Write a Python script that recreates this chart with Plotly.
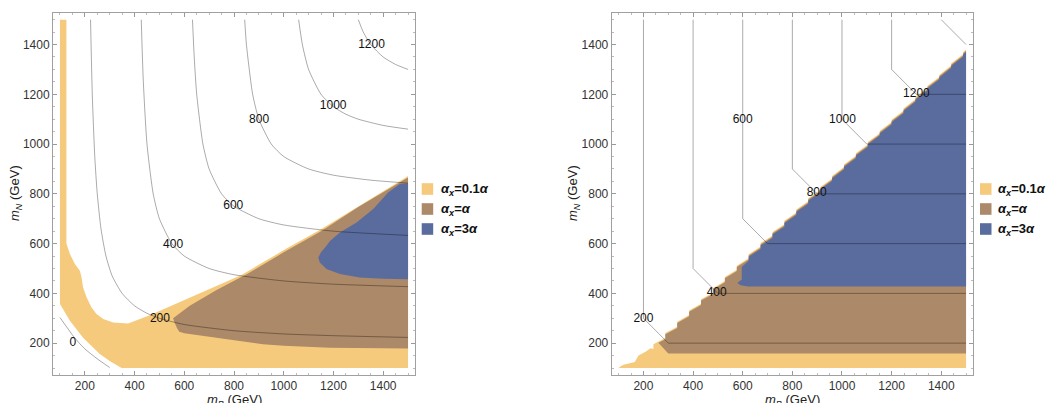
import plotly.graph_objects as go

# ---------------- data ----------------
# Left panel: filled regions (boundary vertices, GeV)
L_yellow_x = [100, 126, 126, 140, 160, 180, 187, 193, 207, 227, 247, 274, 314, 374, 461, 730, 830, 1011, 1145, 1494, 1500, 1500, 348, 300, 260, 193, 140, 100]
L_yellow_y = [1500, 1500, 600, 558, 518, 491, 464, 424, 384, 343, 317, 297, 283, 279, 312, 430, 474, 580, 655, 868, 872, 100, 100, 128, 156, 222, 290, 357]
L_brown_x = [555, 622, 730, 860, 1000, 1150, 1300, 1494, 1500, 1500, 1185, 1000, 917, 823, 700, 636, 600, 580, 570, 560]
L_brown_y = [300, 350, 414, 482, 565, 650, 747, 864, 866, 178, 182, 190, 196, 209, 225, 236, 240, 246, 262, 285]
L_blue_x = [1500, 1467, 1420, 1360, 1293, 1226, 1186, 1172, 1150, 1139, 1145, 1172, 1226, 1306, 1400, 1500]
L_blue_y = [842, 840, 805, 739, 685, 645, 611, 591, 565, 544, 524, 498, 478, 464, 459, 457]

# Left panel: contour lines
L_contours = {
    "0":    ([100, 125, 150, 175, 200, 250, 300], [303, 268, 233, 203, 177, 137, 102]),
    "200":  ([223, 230, 240, 250, 265, 285, 310, 350, 400, 450, 500, 600, 800, 1000, 1200, 1500],
             [1500, 1200, 950, 800, 660, 550, 470, 400, 350, 320, 300, 275, 250, 237, 230, 223]),
    "400":  ([427, 435, 450, 475, 500, 550, 600, 700, 800, 1000, 1200, 1500],
             [1500, 1257, 1000, 800, 700, 600, 550, 500, 475, 450, 437, 427]),
    "600":  ([633, 640, 650, 675, 700, 750, 800, 900, 1000, 1200, 1500],
             [1500, 1350, 1200, 1000, 900, 800, 750, 700, 675, 650, 633]),
    "800":  ([843, 850, 875, 900, 950, 1000, 1100, 1200, 1350, 1500],
             [1500, 1400, 1200, 1100, 1000, 950, 900, 875, 855, 843]),
    "1000": ([1060, 1075, 1100, 1150, 1200, 1250, 1300, 1400, 1500],
             [1500, 1400, 1300, 1200, 1150, 1120, 1100, 1075, 1060]),
    "1200": ([1300, 1320, 1350, 1400, 1450, 1500],
             [1500, 1450, 1400, 1350, 1320, 1300]),
}
L_label_text = ["0", "200", "400", "600", "800", "1000", "1200"]
L_label_x = [152, 502, 555, 797, 901, 1199, 1353]
L_label_y = [202, 299, 596, 752, 1098, 1152, 1399]

# Right panel: jagged diagonal edge (step positions and heights)
R_step_x = [240, 288, 336, 384, 432, 480, 528, 576, 624, 672, 720, 768, 816, 864,
            912, 960, 1008, 1056, 1104, 1152, 1200, 1248, 1296, 1344, 1392, 1440, 1488]
R_step_y = [191, 236, 281, 326, 371, 416, 461, 506, 552, 597, 642, 687, 732, 777,
            822, 867, 913, 958, 1003, 1048, 1093, 1138, 1183, 1228, 1273, 1319, 1364]
R_step_drop = [20, 20, 20, 18, 18, 18, 16, 16, 16, 14, 14, 14, 12, 12,
               12, 10, 10, 10, 10, 9, 9, 9, 8, 8, 8, 8, 8]
R_edge_end_y = 1375
R_yellow_start_x = [100, 107, 120, 165, 180, 210, 228]
R_yellow_start_y = [100, 106, 113, 124, 150, 166, 180]
R_yellow_floor = 100
R_brown_start_x = [300, 260]
R_brown_start_y = [158, 202]
R_brown_floor = 158
R_blue_start_x = [620, 592, 578, 596, 596]
R_blue_start_y = [428, 433, 442, 456, 506]
R_blue_floor = 428

# Right panel: contour lines
R_contours = {
    "200":  ([200, 200, 300, 1500], [1500, 300, 200, 200]),
    "400":  ([400, 400, 500, 1500], [1500, 500, 400, 400]),
    "600":  ([600, 600, 700, 1500], [1500, 700, 600, 600]),
    "800":  ([800, 800, 900, 1500], [1500, 900, 800, 800]),
    "1000": ([1000, 1000, 1100, 1500], [1500, 1100, 1000, 1000]),
    "1200": ([1200, 1200, 1300, 1500], [1500, 1300, 1200, 1200]),
    "1400": ([1400, 1500], [1500, 1400]),
}
R_label_text = ["200", "400", "600", "800", "1000", "1200"]
R_label_x = [200, 495, 600, 898, 1002, 1300]
R_label_y = [297, 400, 1098, 802, 1098, 1202]

legend_names = ["<b><i>α</i><sub><i>x</i></sub>=0.1<i>α</i></b>",
                "<b><i>α</i><sub><i>x</i></sub>=<i>α</i></b>",
                "<b><i>α</i><sub><i>x</i></sub>=3<i>α</i></b>"]
tick_vals = [200, 400, 600, 800, 1000, 1200, 1400]

# ---------------- style / layout ----------------
YELLOW = "#F6CA7C"
BROWN = "#AC8968"
BLUE = "#5A6C9E"
CONTOUR = "rgba(0,0,0,0.42)"
W, H = 1047, 403
FONT = "Liberation Sans, Arial, sans-serif"


def px(xp):
    return xp / W


def py(yp):
    return 1 - yp / H


def sawtooth(offset, start_idx):
    xs, ys = [], []
    for x, y, d in zip(R_step_x[start_idx:], R_step_y[start_idx:], R_step_drop[start_idx:]):
        xs += [x, x]
        ys += [y - d + offset, y + offset]
    xs.append(1500)
    ys.append(R_edge_end_y + offset)
    return xs, ys


fig = go.Figure()


def add_fill(xs, ys, color, xa, ya):
    fig.add_trace(go.Scatter(x=xs, y=ys, fill="toself", fillcolor=color, mode="lines",
                             line=dict(width=0, color=color), hoverinfo="skip",
                             showlegend=False, xaxis=xa, yaxis=ya))


# left panel fills
add_fill(L_yellow_x, L_yellow_y, YELLOW, "x", "y")
add_fill(L_brown_x, L_brown_y, BROWN, "x", "y")
add_fill(L_blue_x, L_blue_y, BLUE, "x", "y")

# right panel fills
sx, sy = sawtooth(5, 0)
add_fill(R_yellow_start_x + sx + [1500], R_yellow_start_y + sy + [R_yellow_floor], YELLOW, "x2", "y2")
sx, sy = sawtooth(0, 1)
add_fill(R_brown_start_x + sx + [1500], R_brown_start_y + sy + [R_brown_floor], BROWN, "x2", "y2")
sx, sy = sawtooth(-5, 8)
add_fill(R_blue_start_x + sx + [1500], R_blue_start_y + sy + [R_blue_floor], BLUE, "x2", "y2")

# contour lines
for k, (xs, ys) in L_contours.items():
    fig.add_trace(go.Scatter(x=xs, y=ys, mode="lines",
                             line=dict(width=0.8, color=CONTOUR, shape="spline", smoothing=0.6),
                             hoverinfo="skip", showlegend=False, xaxis="x", yaxis="y"))
for k, (xs, ys) in R_contours.items():
    fig.add_trace(go.Scatter(x=xs, y=ys, mode="lines",
                             line=dict(width=0.8, color=CONTOUR),
                             hoverinfo="skip", showlegend=False, xaxis="x2", yaxis="y2"))

# contour labels
fig.add_trace(go.Scatter(x=L_label_x, y=L_label_y, text=L_label_text, mode="text",
                         textfont=dict(size=12, color="#111", family=FONT),
                         hoverinfo="skip", showlegend=False, xaxis="x", yaxis="y"))
fig.add_trace(go.Scatter(x=R_label_x, y=R_label_y, text=R_label_text, mode="text",
                         textfont=dict(size=12, color="#111", family=FONT),
                         hoverinfo="skip", showlegend=False, xaxis="x2", yaxis="y2"))

# axes
left_dom = [px(53), px(415)]
right_dom = [px(611.7), px(973)]
y_dom = [py(375), py(12.7)]
ax_common = dict(range=[72, 1528], tickvals=tick_vals, ticks="inside", ticklen=4,
                 tickcolor="#999", showline=True, linecolor="#a0a0a0", linewidth=1,
                 mirror="ticks", showgrid=False, zeroline=False,
                 tickfont=dict(size=12, color="#333", family=FONT),
                 minor=dict(dtick=50, ticks="inside", ticklen=2, tickcolor="#bbb", showgrid=False))

fig.update_layout(
    width=W, height=H, margin=dict(l=0, r=0, t=0, b=0),
    paper_bgcolor="white", plot_bgcolor="white",
    xaxis=dict(domain=left_dom, anchor="y", **ax_common),
    yaxis=dict(domain=y_dom, anchor="x", **ax_common),
    xaxis2=dict(domain=right_dom, anchor="y2", **ax_common),
    yaxis2=dict(domain=y_dom, anchor="x2", **ax_common),
)

# axis titles
anns = []
for cx in [(53 + 415) / 2, (611.7 + 973) / 2]:
    anns.append(dict(x=px(cx), y=py(390), xref="paper", yref="paper", xanchor="center",
                     yanchor="top", showarrow=False,
                     text="<i>m</i><sub><i>B</i></sub> (GeV)",
                     font=dict(size=13, color="#222", family=FONT)))
for cx in [15, 573]:
    anns.append(dict(x=px(cx), y=py(193), xref="paper", yref="paper", xanchor="center",
                     yanchor="middle", showarrow=False, textangle=-90,
                     text="<i>m</i><sub><i>N</i></sub> (GeV)",
                     font=dict(size=13, color="#222", family=FONT)))

# legends (one per panel)
shapes = []
legend_rows = [189, 209, 229]
for sq_x, tx in [(421.7, 439), (980, 996)]:
    for name, color, cy in zip(legend_names, [YELLOW, BROWN, BLUE], legend_rows):
        shapes.append(dict(type="rect", xref="paper", yref="paper",
                           x0=px(sq_x), x1=px(sq_x + 11.5),
                           y0=py(cy + 5.8), y1=py(cy - 5.8),
                           fillcolor=color, line=dict(width=0)))
        anns.append(dict(x=px(tx), y=py(cy), xref="paper", yref="paper", xanchor="left",
                         yanchor="middle", showarrow=False, text=name,
                         font=dict(size=13, color="#111", family=FONT)))

fig.update_layout(annotations=anns, shapes=shapes)
fig.write_html(
    "out.html",
    config={"displayModeBar": False},
    post_script="document.body.style.margin='0px';document.body.style.overflow='hidden';",
)
